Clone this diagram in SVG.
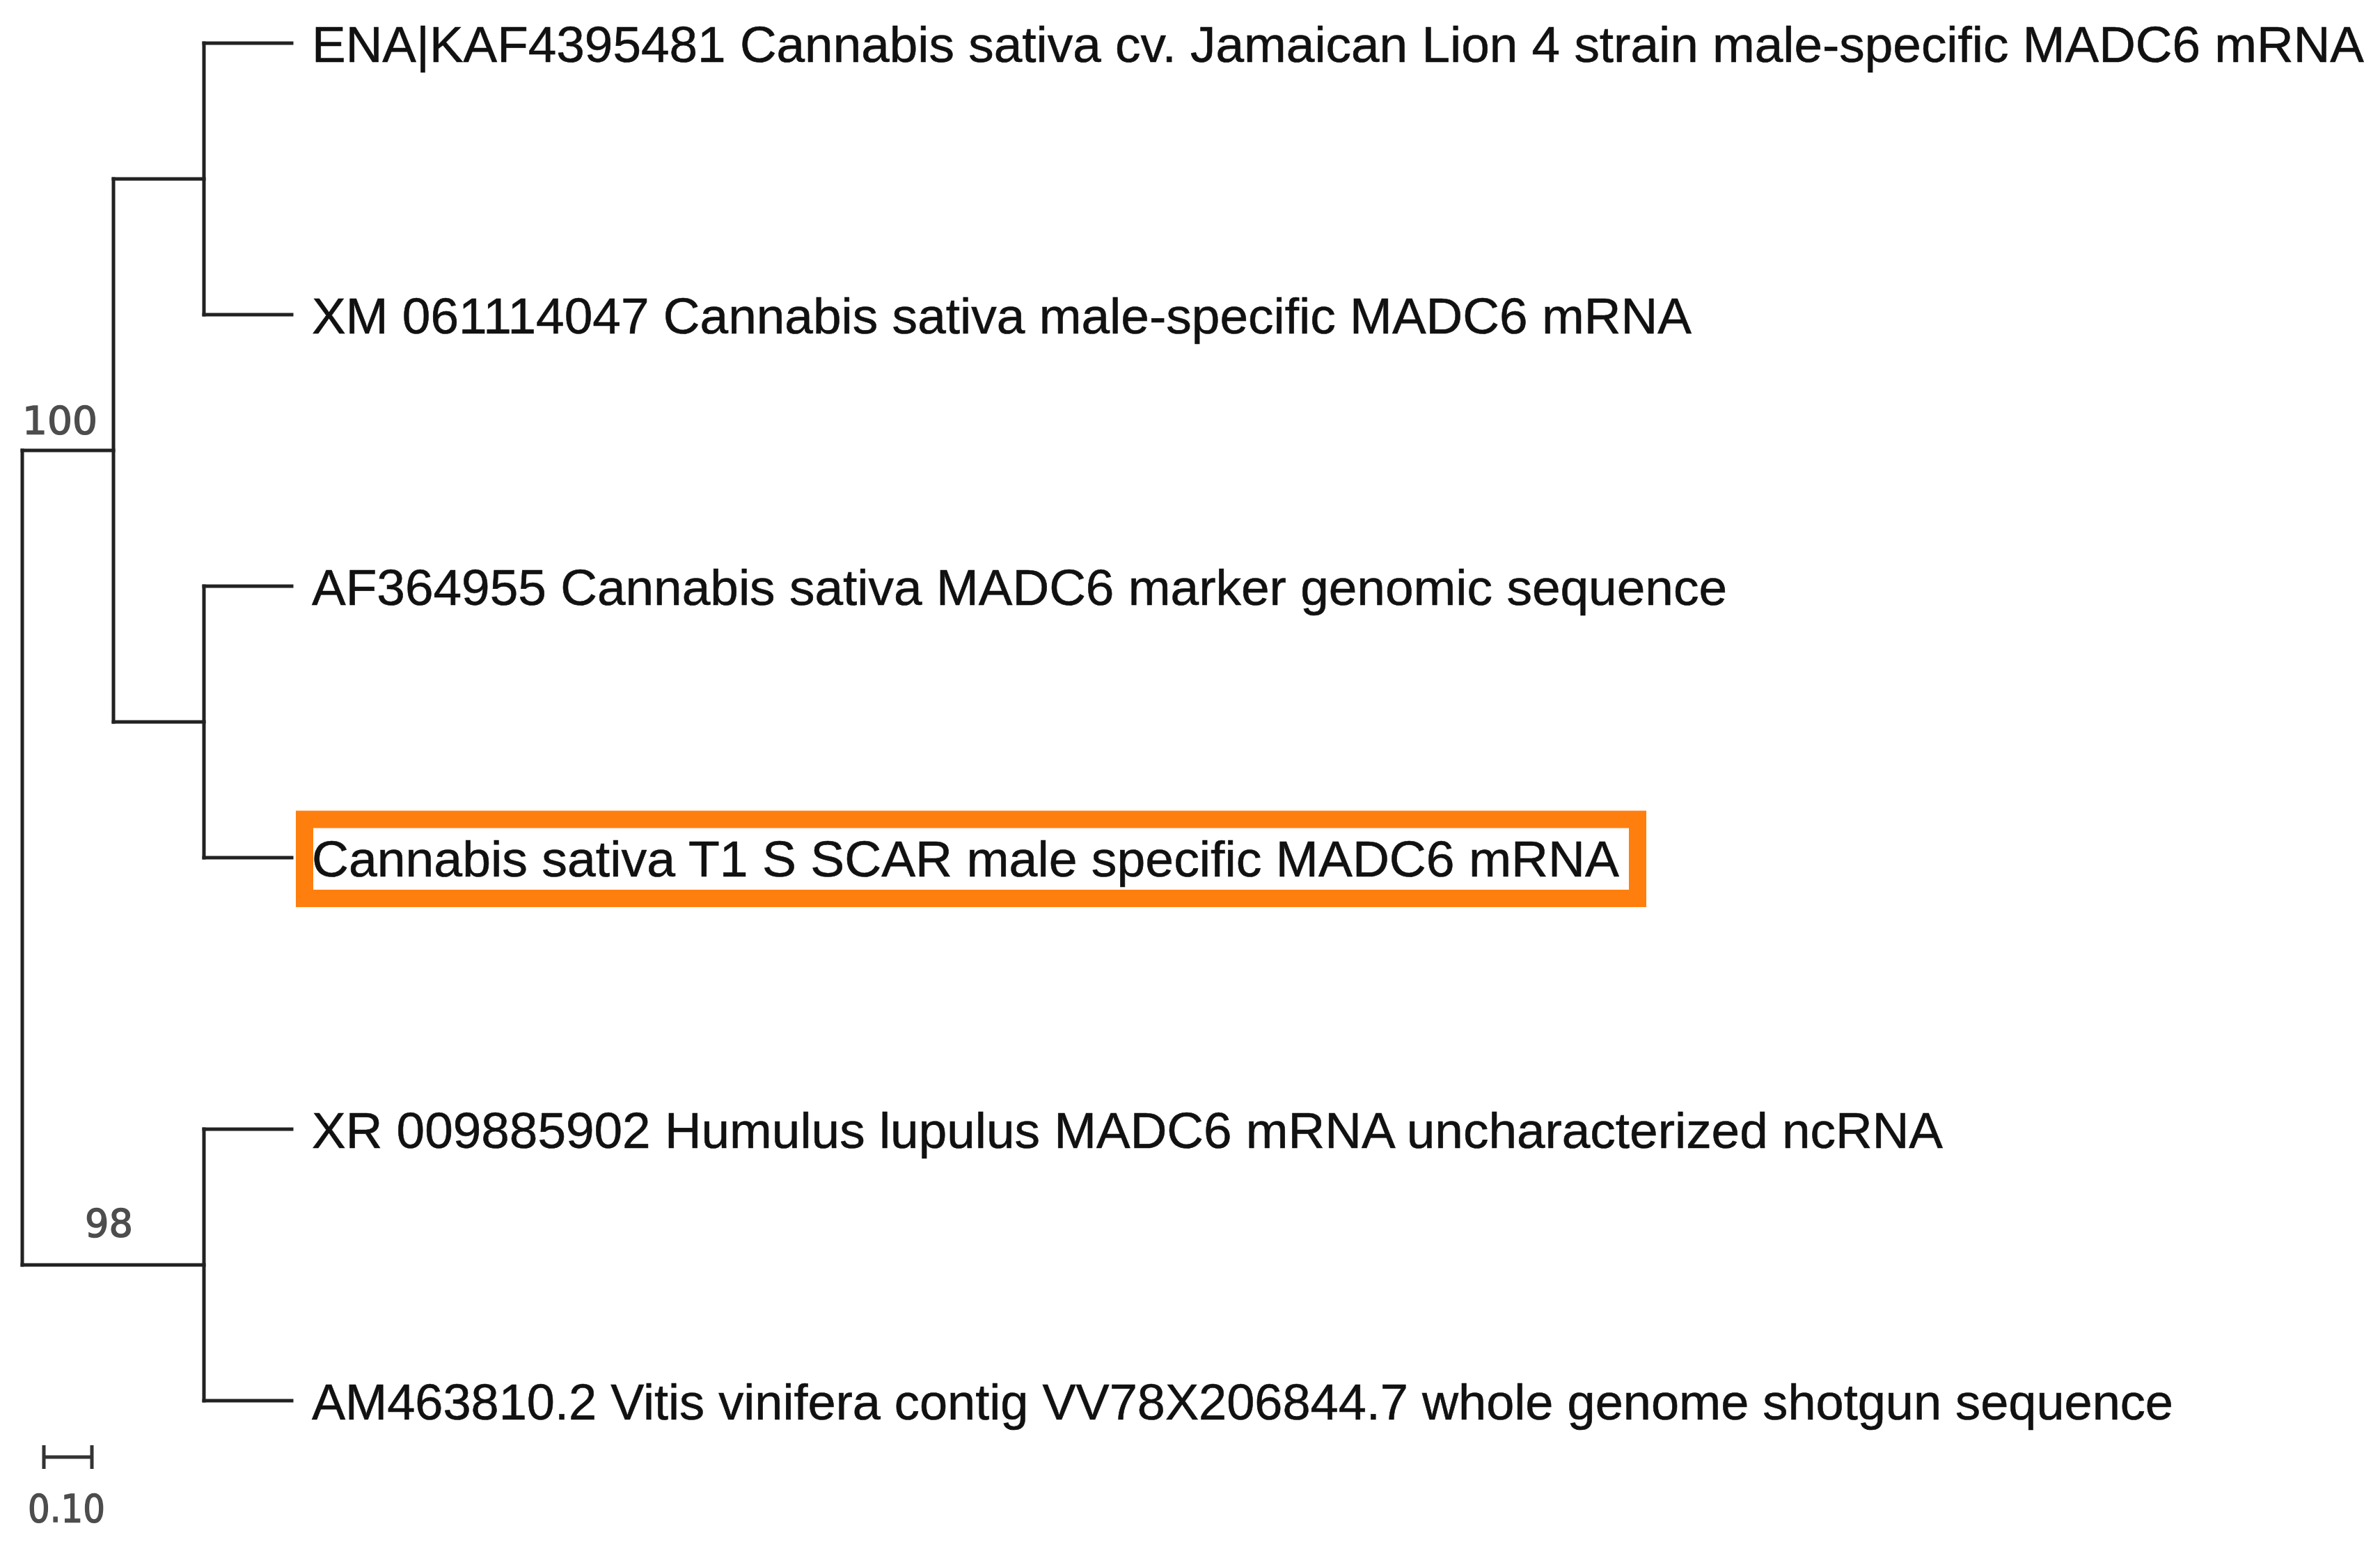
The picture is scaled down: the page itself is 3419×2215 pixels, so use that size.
<svg xmlns="http://www.w3.org/2000/svg" width="3419" height="2215" viewBox="0 0 3419 2215">
<style>
.br{stroke:#222;stroke-width:5;fill:none;stroke-linecap:square}
.lbl{font-family:"Liberation Sans",Arial,sans-serif;font-size:73px;fill:#111;stroke:#111;stroke-width:0.6}
.bs{font-family:"DejaVu Sans",sans-serif;font-size:56px;fill:#4d4d4d;stroke:#4d4d4d;stroke-width:1.5}
.hl{fill:none;stroke:#ff7f0e;stroke-width:25}
</style>
<rect width="3419" height="2215" fill="#fff"/>
<g id="connectors">
<path class="br" d="M32 647 V1817"/>
<path class="br" d="M32 647 H163"/>
<path class="br" d="M32 1817 H293"/>
<path class="br" d="M163 257 V1037"/>
<path class="br" d="M163 257 H293"/>
<path class="br" d="M163 1037 H293"/>
<path class="br" d="M293 62 V452"/>
<path class="br" d="M293 842 V1232"/>
<path class="br" d="M293 1622 V2012"/>
<path class="br" d="M293 62 H419"/>
<path class="br" d="M293 452 H419"/>
<path class="br" d="M293 842 H419"/>
<path class="br" d="M293 1232 H419"/>
<path class="br" d="M293 1622 H419"/>
<path class="br" d="M293 2012 H419"/>
</g>
<g id="leaf1"><text class="lbl" x="448" y="89" textLength="2948" lengthAdjust="spacingAndGlyphs">ENA|KAF4395481 Cannabis sativa cv. Jamaican Lion 4 strain male-specific MADC6 mRNA</text></g>
<g id="leaf2"><text class="lbl" x="448" y="479" textLength="1982" lengthAdjust="spacingAndGlyphs">XM 061114047 Cannabis sativa male-specific MADC6 mRNA</text></g>
<g id="leaf3"><text class="lbl" x="448" y="869" textLength="2033" lengthAdjust="spacingAndGlyphs">AF364955 Cannabis sativa MADC6 marker genomic sequence</text></g>
<g id="leaf4">
<rect class="hl" x="437.5" y="1177" width="1915" height="113.5"/>
<text class="lbl" x="448" y="1259" textLength="1878" lengthAdjust="spacingAndGlyphs">Cannabis sativa T1 S SCAR male specific MADC6 mRNA</text>
</g>
<g id="leaf5"><text class="lbl" x="448" y="1649" textLength="2343" lengthAdjust="spacingAndGlyphs">XR 009885902 Humulus lupulus MADC6 mRNA uncharacterized ncRNA</text></g>
<g id="leaf6"><text class="lbl" x="448" y="2039" textLength="2674" lengthAdjust="spacingAndGlyphs">AM463810.2 Vitis vinifera contig VV78X206844.7 whole genome shotgun sequence</text></g>
<g id="support100"><text class="bs" x="32" y="623" textLength="108" lengthAdjust="spacingAndGlyphs">100</text></g>
<g id="support98"><text class="bs" x="122" y="1776" textLength="69" lengthAdjust="spacingAndGlyphs">98</text></g>
<g id="scalebar">
<path d="M63 2093 H132 M63 2076 V2110 M132 2076 V2110" stroke="#333" stroke-width="5" fill="none"/>
<text class="bs" x="40" y="2186" textLength="111" lengthAdjust="spacingAndGlyphs">0.10</text>
</g>
</svg>
